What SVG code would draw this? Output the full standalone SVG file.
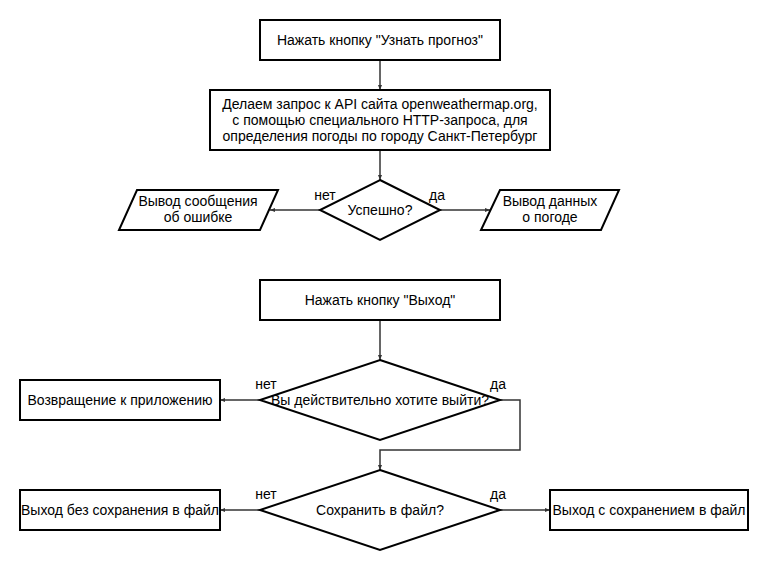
<svg xmlns="http://www.w3.org/2000/svg" width="770" height="570" viewBox="0 0 770 570">
<style>
.shape{fill:#fff;stroke:#000;stroke-width:2}
.edge{fill:none;stroke:#333;stroke-width:1.5}
text{font-family:"Liberation Sans",Arial,sans-serif;font-size:14px;fill:#000}
.c{text-anchor:middle}
</style>
<defs>
<marker id="ah" viewBox="0 0 10 10" refX="10" refY="5" markerWidth="5" markerHeight="5" orient="auto" markerUnits="userSpaceOnUse">
<path d="M0,1 L10,5 L0,9 Z" fill="#333"/>
</marker>
</defs>
<rect width="770" height="570" fill="#fff"/>
<g id="edges">
<path class="edge" d="M380,60 V90" marker-end="url(#ah)"/>
<path class="edge" d="M380,150 V180" marker-end="url(#ah)"/>
<path class="edge" d="M320,210 H270" marker-end="url(#ah)"/>
<path class="edge" d="M440,210 H490" marker-end="url(#ah)"/>
<path class="edge" d="M380,320 V360" marker-end="url(#ah)"/>
<path class="edge" d="M260,400 H220" marker-end="url(#ah)"/>
<path class="edge" d="M500,400 H520 V450 H380 V470" marker-end="url(#ah)"/>
<path class="edge" d="M260,510 H220" marker-end="url(#ah)"/>
<path class="edge" d="M500,510 H550" marker-end="url(#ah)"/>
</g>
<g id="n1"><rect class="shape" x="260" y="20" width="240" height="40"/><text class="c" x="380" y="45">Нажать кнопку "Узнать прогноз"</text></g>
<g id="n2"><rect class="shape" x="210" y="90" width="340" height="60"/>
<text class="c" x="380" y="109">Делаем запрос к API сайта openweathermap.org,</text>
<text class="c" x="380" y="125">с помощью специального HTTP-запроса, для</text>
<text class="c" x="380" y="141">определения погоды по городу Санкт-Петербург</text></g>
<g id="d1"><polygon class="shape" points="380,180 440,210 380,240 320,210"/><text class="c" x="380" y="215">Успешно?</text></g>
<g id="p1"><polygon class="shape" points="137,190 278,190 260,230 119,230"/><text class="c" x="198" y="206">Вывод сообщения</text><text class="c" x="198" y="222">об ошибке</text></g>
<g id="p2"><polygon class="shape" points="500,190 619,190 601,230 481,230"/><text class="c" x="550" y="206">Вывод данных</text><text class="c" x="550" y="222">о погоде</text></g>
<g id="n3"><rect class="shape" x="260" y="280" width="240" height="40"/><text class="c" x="380" y="305">Нажать кнопку "Выход"</text></g>
<g id="d2"><polygon class="shape" points="380,360 500,400 380,440 260,400"/><text class="c" x="380" y="405">Вы действительно хотите выйти?</text></g>
<g id="n4"><rect class="shape" x="20" y="380" width="200" height="40"/><text class="c" x="120" y="405">Возвращение к приложению</text></g>
<g id="d3"><polygon class="shape" points="380,470 500,510 380,550 260,510"/><text class="c" x="380" y="515">Сохранить в файл?</text></g>
<g id="n5"><rect class="shape" x="20" y="490" width="200" height="40"/><text class="c" x="120" y="515">Выход без сохранения в файл</text></g>
<g id="n6"><rect class="shape" x="550" y="490" width="198" height="40"/><text class="c" x="649" y="515">Выход с сохранением в файл</text></g>
<g id="labels">
<text class="c" x="325" y="200">нет</text>
<text class="c" x="437" y="200">да</text>
<text class="c" x="266" y="389">нет</text>
<text class="c" x="498" y="389">да</text>
<text class="c" x="266" y="499">нет</text>
<text class="c" x="498" y="499">да</text>
</g>
</svg>
